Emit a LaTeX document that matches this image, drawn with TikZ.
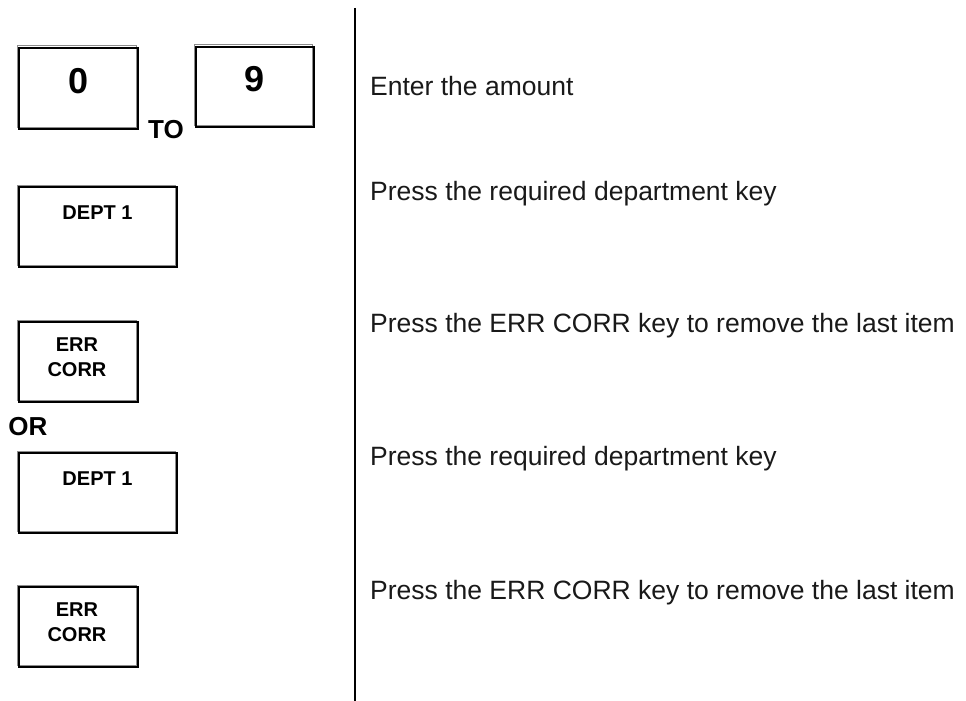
\documentclass[tikz,border=0pt]{standalone}
\usepackage{fontspec}
\setmainfont{Liberation Sans}
\usepackage{tikz}
\usetikzlibrary{positioning}
\tikzstyle{tasto} = [rectangle, draw=black, line width=1.4pt, inner sep=0pt,
preaction={draw=black!45, line width=1pt, transform canvas={shift={(-2pt,2pt)}}}]
\tikzstyle{scritta} = [inner sep=0pt, font=\fontsize{20}{25}\selectfont\bfseries, align=center]
\tikzstyle{cifra} = [inner sep=0pt, font=\fontsize{36}{36}\selectfont\bfseries]
\tikzstyle{istruz} = [anchor=base west, inner sep=0pt, text=black!90, font=\fontsize{26.5}{28}\selectfont]
\tikzstyle{parola} = [inner sep=0pt, font=\fontsize{26}{28}\selectfont\bfseries]

\begin{document}
\begin{tikzpicture}[x=1pt,y=-1pt]
						\useasboundingbox (0,0) rectangle (966,701);
						% tasti a sinistra
						\node (k0) at (78.5,88.5) [tasto, minimum width=119pt, minimum height=81pt] {};
						\node[cifra] (k0t) at (78.5,81) {0};
						\node (k9) at (255,87) [tasto, minimum width=118pt, minimum height=80pt] {};
						\node[cifra] (k9t) at (255,79) {9};
						\node[parola] (to) at (166,130) {TO};
						\node (d1) at (98,227) [tasto, minimum width=158pt, minimum height=80pt] {};
						\node[scritta] (d1t) at (97.5,212.5) {DEPT 1};
						\node (e1) at (78.5,362) [tasto, minimum width=119pt, minimum height=80pt] {};
						\node[scritta] (e1t) at (77,357) {ERR\\CORR};
						\node[parola] (or) at (28,427) {OR};
						\node (d2) at (98,493) [tasto, minimum width=158pt, minimum height=80pt] {};
						\node[scritta] (d2t) at (97.5,478.5) {DEPT 1};
						\node (e2) at (78.5,627) [tasto, minimum width=119pt, minimum height=80pt] {};
						\node[scritta] (e2t) at (77,622) {ERR\\CORR};
						% linea centrale
						\coordinate (su) at (355,8);
						\coordinate (giu) at (355,701);
						\draw[line width=2pt] (su) -- (giu);
						% istruzioni
						\node[istruz] (i1) at (370,95) {Enter the amount};
						\node[istruz] (i2) at (370,200) {Press the required department key};
						\node[istruz] (i3) at (370,332) {Press the ERR CORR key to remove the last item};
						\node[istruz] (i4) at (370,465) {Press the required department key};
						\node[istruz] (i5) at (370,599) {Press the ERR CORR key to remove the last item};
					\end{tikzpicture}
\end{document}
